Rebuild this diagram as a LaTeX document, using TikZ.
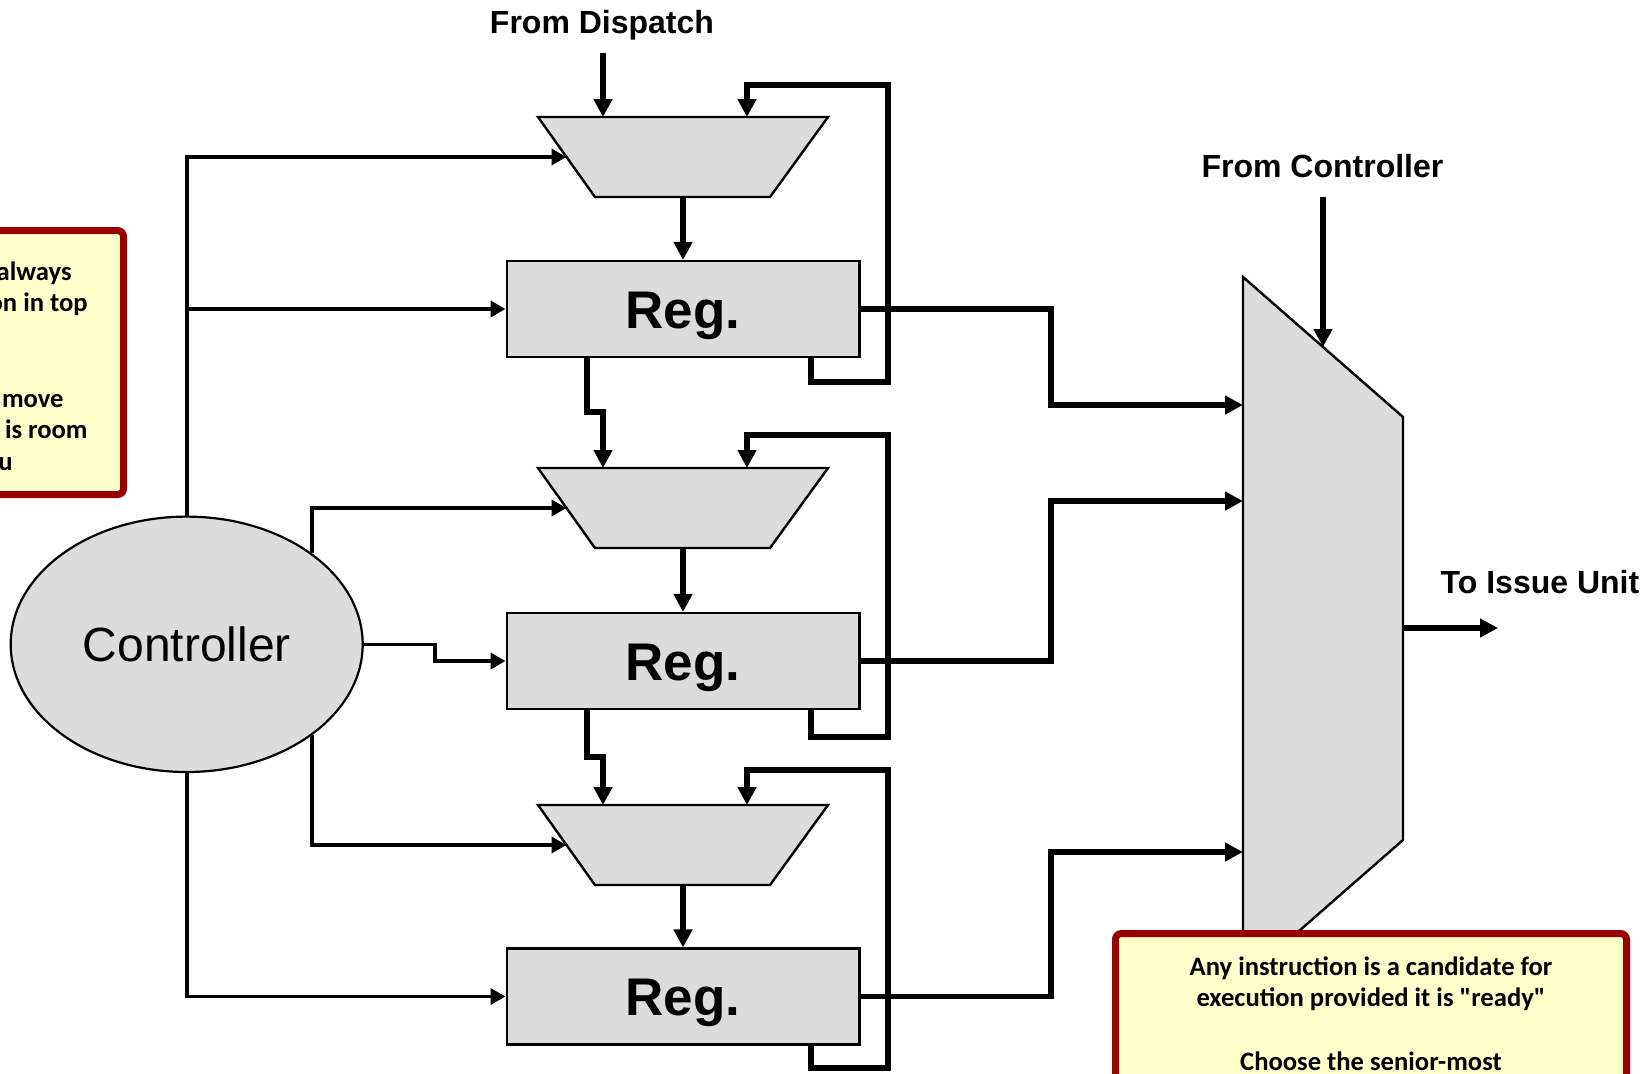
\documentclass[tikz,border=0pt]{standalone}
\usepackage{fontspec}
\setmainfont{Liberation Sans}
\newfontfamily\notefont{Carlito}
\usetikzlibrary{arrows.meta,shadows,shapes.geometric}

\definecolor{blockgrey}{RGB}{220,220,220}
\definecolor{notefill}{RGB}{255,255,204}
\definecolor{noteborder}{RGB}{153,0,0}

\begin{document}
\begin{tikzpicture}[x=0.5pt,y=-0.5pt,
  block/.style={draw=black, line width=1.2pt, fill=blockgrey},
  reg/.style={block, rectangle, inner sep=0pt, minimum width=176.3pt, minimum height=47.85pt,
    font=\bfseries\fontsize{26.5}{30}\selectfont, text height=19pt, text depth=0pt},
  data/.style={line width=2.6pt, -{Triangle[length=9pt,width=9pt]}},
  ctl/.style={line width=1.8pt, -{Triangle[length=7.5pt,width=8pt]}},
  label/.style={font=\bfseries\fontsize{16}{19}\selectfont, anchor=base, inner sep=0pt},
  note/.style={draw=noteborder, line width=3.5pt, fill=notefill, rounded corners=3pt,
    drop shadow={shadow xshift=1.5pt, shadow yshift=-1.5pt, opacity=0.35}},
  notetext/.style={font=\notefont\bfseries\fontsize{13.3}{16}\selectfont, inner sep=0pt}
]
\useasboundingbox (0,0) rectangle (1650,1073);
\clip (0,0) rectangle (1650,1073);

% controller
\node[draw=black, line width=1.1pt, fill=blockgrey, ellipse, inner sep=0pt,
  minimum width=176pt, minimum height=127.7pt,
  font=\fontsize{24}{28}\selectfont, text height=17.2pt, text depth=0pt]
  (ctrl) at (186.7,644.3) {Controller};

% registers
\node[reg] (r1) at (683,309) {Reg.};
\node[reg] (r2) at (683,661) {Reg.};
\node[reg] (r3) at (683,996.5) {Reg.};

% input multiplexers
\draw[block] (538,117) -- (828,117) -- (770,197) -- (595,197) -- cycle;
\coordinate (m1a) at (603,117); \coordinate (m1b) at (747,117);
\coordinate (m1s) at (566.5,157); \coordinate (m1o) at (683,197);

\draw[block] (538,468) -- (828,468) -- (770,548) -- (595,548) -- cycle;
\coordinate (m2a) at (603,468); \coordinate (m2b) at (747,468);
\coordinate (m2s) at (566.5,508); \coordinate (m2o) at (683,548);

\draw[block] (538,805) -- (828,805) -- (770,885) -- (595,885) -- cycle;
\coordinate (m3a) at (603,805); \coordinate (m3b) at (747,805);
\coordinate (m3s) at (566.5,845); \coordinate (m3o) at (683,885);

% output selector
\draw[block] (1243,277) -- (1403,417) -- (1403,840) -- (1243,980) -- cycle;
\coordinate (rm1) at (1243,405); \coordinate (rm2) at (1243,501);
\coordinate (rm3) at (1243,852); \coordinate (rms) at (1323,347);
\coordinate (rmo) at (1403,628);

% labels
\node[label] (fromdisp) at (602,33) {From Dispatch};
\node[label] (fromctl) at (1322.5,177) {From Controller};
\node[label] (toissue) at (1540,593) {To Issue Unit};
\coordinate (dispin) at (603,53);
\coordinate (ctlin) at (1323,197);
\coordinate (issue) at (1498,628);

% data paths
\draw[data] (dispin) -- (m1a);
\draw[data] (m1o) -- (r1.north);
\draw[data] (m2o) -- (r2.north);
\draw[data] (m3o) -- (r3.north);

\draw[data] ([xshift=-48pt]r1.south) -- (587,412) -| (m2a);
\draw[data] ([xshift=-48pt]r2.south) -- (587,757) -| (m3a);

\draw[data] ([xshift=64pt]r1.south) |- (888,382) |- (747,85) -- (m1b);
\draw[data] ([xshift=64pt]r2.south) |- (888,737) |- (747,435) -- (m2b);
\draw[data] ([xshift=64pt]r3.south) |- (888,1068) |- (747,770) -- (m3b);

\draw[data] (r1.east) -| (1051,405) -- (rm1);
\draw[data] (r2.east) -| (1051,501) -- (rm2);
\draw[data] (r3.east) -| (1051,852) -- (rm3);

\draw[data] (ctlin) -- (rms);
\draw[data] (rmo) -- (issue);

% control lines
\draw[ctl] (ctrl.north) |- (m1s);
\draw[ctl] (ctrl.north |- r1.west) -- (r1.west);
\draw[ctl] (ctrl.36.4) |- (m2s);
\draw[ctl] (ctrl.east) -| (435,661) -- (r2.west);
\draw[ctl] (ctrl.-36.4) |- (m3s);
\draw[ctl] (ctrl.south) |- (r3.west);

% notes
\draw[note] (-200,230.5) rectangle (123.5,494.5);
\node[notetext, anchor=base east] (la) at (72,280) {always};
\node[notetext, anchor=base east] (lb) at (88,311) {on in top};
\node[notetext, anchor=base east] (lc) at (64,407) {move};
\node[notetext, anchor=base east] (ld) at (88,438) {is room};
\node[notetext, anchor=base east] (le) at (13,470) {u};

\draw[note] (1115.5,933.5) rectangle (1626.5,1200);
\node[notetext, anchor=base] (na) at (1371,975) {Any instruction is a candidate for};
\node[notetext, anchor=base] (nb) at (1371,1006.7) {execution provided it is "ready"};
\node[notetext, anchor=base] (nc) at (1371,1070) {Choose the senior-most};
\end{tikzpicture}
\end{document}
